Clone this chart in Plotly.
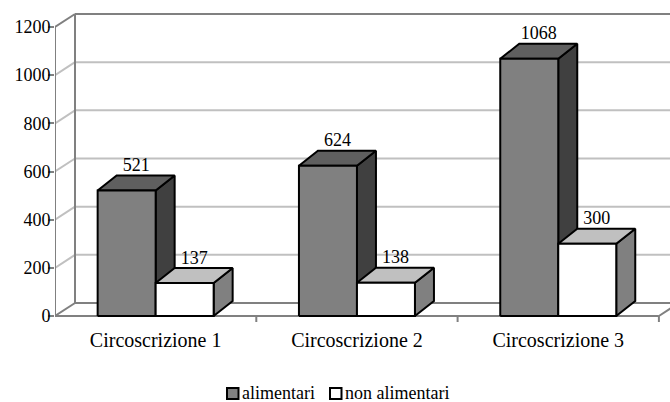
import plotly.graph_objects as go

# ---- data -------------------------------------------------------------
categories = ["Circoscrizione 1", "Circoscrizione 2", "Circoscrizione 3"]
alimentari = [521, 624, 1068]
non_alimentari = [137, 138, 300]
series_names = ["alimentari", "non alimentari"]
y_ticks = [0, 200, 400, 600, 800, 1000, 1200]

# ---- pseudo-3D geometry (oblique projection, in axis units) -----------
PX_X = 201.3            # pixels per category
PX_Y = 289.0 / 1200.0   # pixels per value unit
BAR_W = 58 / PX_X
BAR_DX, BAR_DY = 19 / PX_X, 15 / PX_Y
WALL_DX, WALL_DY = 20 / PX_X, 13 / PX_Y

FONT = "Liberation Serif, Times New Roman, DejaVu Serif, serif"
GRID = "#c0c0c0"
EDGE = "#808080"

# face colours: front, top, side
palette = [
    ("#808080", "#5f5f5f", "#404040"),
    ("#ffffff", "#c0c0c0", "#808080"),
]
series_values = [alimentari, non_alimentari]


def face(xs, ys, color):
    return go.Scatter(
        x=xs + [xs[0]], y=ys + [ys[0]], mode="lines",
        fill="toself", fillcolor=color,
        line=dict(color="black", width=2),
        hoverinfo="skip", showlegend=False,
    )


fig = go.Figure()
label_x, label_y, label_t = [], [], []

for ci, _ in enumerate(categories):
    center = ci + 0.5
    for si, values in enumerate(series_values):
        v = values[ci]
        x0 = center - BAR_W + si * BAR_W
        x1 = x0 + BAR_W
        front, top, side = palette[si]
        # right side face
        fig.add_trace(face([x1, x1 + BAR_DX, x1 + BAR_DX, x1],
                           [0, BAR_DY, v + BAR_DY, v], side))
        # top face
        fig.add_trace(face([x0, x1, x1 + BAR_DX, x0 + BAR_DX],
                           [v, v, v + BAR_DY, v + BAR_DY], top))
        # front face
        fig.add_trace(face([x0, x1, x1, x0], [0, 0, v, v], front))
        label_x.append(x0 + BAR_W / 2 + BAR_DX / 2)
        label_y.append(v + BAR_DY)
        label_t.append(str(v))

fig.add_trace(go.Scatter(
    x=label_x, y=label_y, text=label_t, mode="text",
    textposition="top center",
    textfont=dict(family=FONT, size=18, color="black"),
    hoverinfo="skip", showlegend=False,
))

# ---- walls, floor and gridlines ---------------------------------------
n_cat = len(categories)
x_far = n_cat + 1.0
shapes = []


def seg(x0, y0, x1, y1, color):
    shapes.append(dict(type="line", xref="x", yref="y", x0=x0, y0=y0,
                       x1=x1, y1=y1, layer="below",
                       line=dict(color=color, width=2)))


for t in y_ticks:
    col = EDGE if t in (y_ticks[0], y_ticks[-1]) else GRID
    seg(WALL_DX, t + WALL_DY, x_far, t + WALL_DY, col)   # back wall
    seg(0, t, WALL_DX, t + WALL_DY, col)                 # side wall

seg(WALL_DX, WALL_DY, WALL_DX, y_ticks[-1] + WALL_DY, EDGE)
seg(0, 0, 0, y_ticks[-1], EDGE)                          # value axis
seg(0, 0, n_cat, 0, EDGE)                                # floor front edge
seg(n_cat, 0, n_cat + WALL_DX, WALL_DY, EDGE)            # floor right edge
for k in range(1, n_cat + 1):                            # category ticks
    seg(k, 0, k, -6 / PX_Y, EDGE)

# ---- legend ------------------------------------------------------------
L, T, W, H = 55, 8, 615, 318


def px_x(p):
    return (p - L) / W


def px_y(p):
    return (T + H - p) / H


annotations = []
legend_items = [(227, 241, palette[0][0]), (330, 344, palette[1][0])]
for (sx, tx, col), name in zip(legend_items, series_names):
    shapes.append(dict(type="rect", xref="paper", yref="paper",
                       x0=px_x(sx), x1=px_x(sx + 11.5),
                       y0=px_y(399), y1=px_y(388),
                       fillcolor=col, line=dict(color="black", width=2)))
    annotations.append(dict(xref="paper", yref="paper", x=px_x(tx),
                            y=px_y(392.5), xanchor="left", yanchor="middle",
                            text=name, showarrow=False, borderpad=0,
                            font=dict(family=FONT, size=18, color="black")))

fig.update_layout(
    width=670, height=402,
    margin=dict(l=L, r=670 - L - W, t=T, b=402 - T - H),
    paper_bgcolor="white", plot_bgcolor="white",
    shapes=shapes, annotations=annotations,
    showlegend=False,
    xaxis=dict(range=[0, W / PX_X], tickvals=[i + 0.5 for i in range(n_cat)],
               ticktext=categories, ticks="", showgrid=False,
               zeroline=False, showline=False, fixedrange=True,
               tickfont=dict(family=FONT, size=20, color="black")),
    yaxis=dict(range=[-10 / PX_Y, (316 - T) / PX_Y], tickvals=y_ticks,
               ticks="outside", ticklen=6, tickwidth=2, tickcolor=EDGE,
               ticklabelstandoff=-6,
               showgrid=False, zeroline=False, showline=False,
               fixedrange=True,
               tickfont=dict(family=FONT, size=18, color="black")),
)

fig.write_html("out.html")
